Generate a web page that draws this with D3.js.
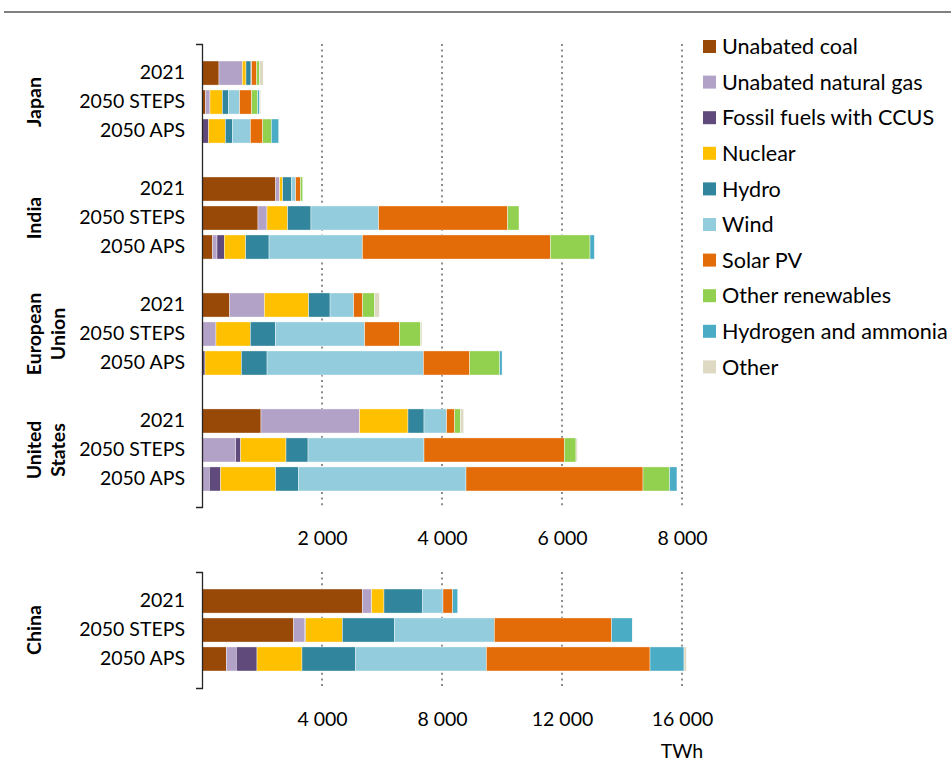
<!DOCTYPE html>
<html>
<head>
<meta charset="utf-8">
<script src="https://cdn.jsdelivr.net/npm/d3@7"></script>
<style>
  body { margin: 0; background: #fff; }
  svg { font-family: Lato, "Open Sans", sans-serif; }
</style>
</head>
<body>
<script>
    var w = 951;
    var h = 762;

    // series (stack order, left to right)
    var series = ["Unabated coal", "Unabated natural gas", "Fossil fuels with CCUS", "Nuclear",
        "Hydro", "Wind", "Solar PV", "Other renewables", "Hydrogen and ammonia", "Other"];
    var colors = ["#984807", "#b3a2c7", "#604a7b", "#ffc000", "#31859c",
        "#93cddd", "#e36c09", "#92d050", "#4bacc6", "#ddd9c3"];

    var scenarios = ["2021", "2050 STEPS", "2050 APS"];
    var regions = ["Japan", "India", "European Union", "United States"];
    var regionLines = [["Japan"], ["India"], ["European", "Union"], ["United", "States"]];

    // TWh, one row per scenario, one value per series
    var japan = [
        [283, 389, 0, 61, 83, 10, 83, 50, 0, 61],
        [61, 72, 0, 206, 100, 189, 200, 100, 33, 17],
        [0, 0, 111, 278, 117, 300, 206, 144, 122, 0]
    ];
    var india = [
        [1228, 67, 0, 50, 144, 72, 78, 39, 0, 0],
        [933, 150, 0, 344, 389, 1128, 2150, 189, 0, 0],
        [178, 72, 122, 356, 389, 1556, 3133, 661, 72, 0]
    ];
    var eu = [
        [461, 578, 0, 739, 356, 394, 150, 200, 0, 78],
        [0, 233, 0, 572, 417, 1489, 583, 350, 0, 22],
        [0, 0, 50, 606, 428, 2606, 772, 500, 39, 0]
    ];
    var us = [
        [983, 1644, 0, 806, 267, 378, 133, 94, 0, 56],
        [0, 561, 83, 756, 367, 1933, 2339, 194, 0, 22],
        [0, 122, 189, 917, 378, 2794, 2950, 444, 122, 0]
    ];
    var china = [
        [5344, 311, 0, 411, 1289, 678, 322, 0, 167, 0],
        [3056, 367, 33, 1222, 1733, 3333, 3911, 0, 689, 17],
        [811, 333, 689, 1500, 1789, 4356, 5456, 0, 1133, 78]
    ];

    var topTicks = [2000, 4000, 6000, 8000];
    var chinaTicks = [4000, 8000, 12000, 16000];
    var unit = "TWh";

    var fmt = function(d) { return d3.format(",")(d).replace(/,/g, " "); };

    var svg = d3.select("body")
        .append("svg")
        .attr("width", w)
        .attr("height", h);

    // top rule
    svg.append("line")
        .attr("x1", 4).attr("x2", w)
        .attr("y1", 12).attr("y2", 12)
        .attr("stroke", "#808080")
        .attr("stroke-width", 2);

    // build rows for the top panel, with a blank slot between regions
    var allData = [japan, india, eu, us];
    var rows = [];
    var keys = [];
    regions.forEach(function(r, i) {
        if (i > 0) keys.push("gap" + i);
        scenarios.forEach(function(s, j) {
            keys.push(r + "|" + s);
            rows.push({ key: r + "|" + s, label: s, values: allData[i][j] });
        });
    });
    var chinaRows = scenarios.map(function(s, j) {
        return { key: "China|" + s, label: s, values: china[j] };
    });

    var xScale = d3.scaleLinear().domain([0, 8000]).range([202, 682]);
    var xChina = d3.scaleLinear().domain([0, 16000]).range([202, 682]);

    var yScale = d3.scaleBand().domain(keys).range([61, 491]).paddingInner(0.17);
    var yChina = d3.scaleBand().domain(chinaRows.map(function(d) { return d.key; }))
        .range([589, 671]).paddingInner(0.17);

    function drawPanel(data, x, y, ticks, yTop, yBot, labelY) {
        var g = svg.append("g");

        // dotted gridlines
        g.selectAll("line.grid")
            .data(ticks)
            .enter()
            .append("line")
            .attr("class", "grid")
            .attr("x1", function(d) { return x(d); })
            .attr("x2", function(d) { return x(d); })
            .attr("y1", yTop)
            .attr("y2", yBot)
            .attr("stroke", "#8c8c8c")
            .attr("stroke-width", 2)
            .attr("stroke-dasharray", "2,3.6");

        // stacked bars
        data.forEach(function(row) {
            var acc = 0;
            var segs = row.values.map(function(v, i) {
                var s = { x0: acc, x1: acc + v, i: i };
                acc += v;
                return s;
            }).filter(function(s) { return s.x1 > s.x0; });

            g.selectAll(null)
                .data(segs)
                .enter()
                .append("rect")
                .attr("x", function(d) { return x(d.x0); })
                .attr("width", function(d) { return x(d.x1) - x(d.x0); })
                .attr("y", y(row.key))
                .attr("height", y.bandwidth())
                .attr("fill", function(d) { return colors[d.i]; })
                .attr("stroke", "#fff")
                .attr("stroke-width", 0.4);
        });

        // left axis line with outer ticks
        var yLine = d3.scaleLinear().range([yTop, yBot]);
        g.append("g")
            .attr("transform", "translate(202,0)")
            .call(d3.axisLeft(yLine).tickValues([]).tickSizeOuter(6))
            .select(".domain")
            .attr("stroke", "#262626")
            .attr("stroke-width", 1.3);

        // scenario labels
        var yAxis = d3.axisLeft(y)
            .tickSize(0)
            .tickPadding(17)
            .tickFormat(function(k) { return k.indexOf("|") < 0 ? "" : k.split("|")[1]; });
        var ya = g.append("g")
            .attr("transform", "translate(202,0)")
            .call(yAxis);
        ya.select(".domain").remove();
        ya.selectAll("text")
            .style("font-family", "Lato, sans-serif")
            .style("font-size", "19.5px")
            .attr("fill", "#000");

        // value axis labels
        var xAxis = d3.axisBottom(x)
            .tickValues(ticks)
            .tickSize(0)
            .tickPadding(0)
            .tickFormat(fmt);
        var xa = g.append("g")
            .attr("transform", "translate(0," + labelY + ")")
            .call(xAxis);
        xa.select(".domain").remove();
        xa.selectAll("text")
            .style("font-family", "Lato, sans-serif")
            .style("font-size", "19.5px")
            .attr("fill", "#000");
    }

    drawPanel(rows, xScale, yScale, topTicks, 44, 507, 531);
    drawPanel(chinaRows, xChina, yChina, chinaTicks, 572, 688, 712);

    // unit label
    svg.append("text")
        .attr("x", 682)
        .attr("y", 758)
        .attr("text-anchor", "middle")
        .style("font-size", "19.5px")
        .text(unit);

    // region labels (rotated, bold)
    function regionLabel(lines, cy) {
        lines.forEach(function(t, i) {
            svg.append("text")
                .attr("transform", "translate(" + (41 + i * 24) + "," + cy + ") rotate(-90)")
                .attr("text-anchor", "middle")
                .style("font-size", "19.5px")
                .style("font-weight", "bold")
                .text(t);
        });
    }
    regions.forEach(function(r, i) {
        var top = yScale(r + "|" + scenarios[0]);
        var bot = yScale(r + "|" + scenarios[2]) + yScale.bandwidth();
        regionLabel(regionLines[i], (top + bot) / 2);
    });
    regionLabel(["China"], (yChina("China|2021") + yChina("China|2050 APS") + yChina.bandwidth()) / 2);

    // legend
    var legend = svg.selectAll("g.legend")
        .data(series)
        .enter()
        .append("g")
        .attr("class", "legend")
        .attr("transform", function(d, i) { return "translate(703," + (46.5 + i * 35.6) + ")"; });

    legend.append("rect")
        .attr("x", 0)
        .attr("y", -6.5)
        .attr("width", 13)
        .attr("height", 13)
        .attr("fill", function(d, i) { return colors[i]; });

    legend.append("text")
        .attr("x", 19)
        .attr("dy", "0.36em")
        .style("font-size", "21.6px")
        .text(function(d) { return d; });
</script>
</body>
</html>
